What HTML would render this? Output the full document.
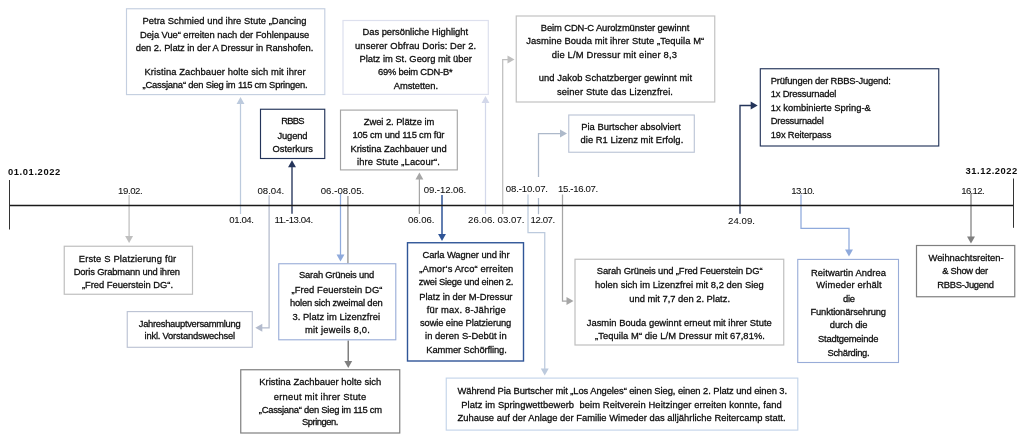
<!DOCTYPE html><html><head><meta charset="utf-8"><title>Timeline 2022</title><style>
html,body{margin:0;padding:0;background:#fff}
body{width:1024px;height:439px;position:relative;overflow:hidden;font-family:"Liberation Sans",sans-serif;}
svg{position:absolute;left:0;top:0}
.t{position:absolute;white-space:pre;font-size:9.4px;line-height:12px;height:12px;color:#0c0c0c;-webkit-text-stroke:0.28px #0c0c0c;}
#tx{position:absolute;left:0;top:0;width:1024px;height:439px;will-change:transform}
.b{font-weight:bold;-webkit-text-stroke:0}.d{font-size:9.6px;-webkit-text-stroke:0.05px #0c0c0c}
</style></head><body>
<svg width="1024" height="439" viewBox="0 0 1024 439">
<polyline fill="none" stroke="#bfbfbf" stroke-width="1.25" points="129.1,195 129.1,236.4"/>
<polygon fill="#bfbfbf" points="129.1,242.9 125.15,235.9 133.05,235.9"/>
<polyline fill="none" stroke="#bccadd" stroke-width="1.25" points="240.5,214 240.5,103.6"/>
<polygon fill="#bccadd" points="240.5,97.1 244.45,104.1 236.55,104.1"/>
<polyline fill="none" stroke="#b3bbcd" stroke-width="1.25" points="269.1,195.25 269.1,327.8 261.8,327.8"/>
<polygon fill="#b3bbcd" points="255.3,327.8 262.3,323.85 262.3,331.75"/>
<polyline fill="none" stroke="#24345a" stroke-width="1.35" points="292,213.75 292,166.7"/>
<polygon fill="#24345a" points="292,160.2 295.95,167.2 288.05,167.2"/>
<polyline fill="none" stroke="#8faadc" stroke-width="1.25" points="340.5,193.5 340.5,255"/>
<polygon fill="#8faadc" points="340.5,261.5 336.55,254.5 344.45,254.5"/>
<polyline fill="none" stroke="#a0a0a0" stroke-width="1.5" points="347.9,195.9 347.9,263.5"/>
<polyline fill="none" stroke="#7f7f7f" stroke-width="1.5" points="348.25,340.5 348.25,361.5"/>
<polygon fill="#7f7f7f" points="348.25,368 344.3,361 352.2,361"/>
<polyline fill="none" stroke="#a6a6a6" stroke-width="1.25" points="419.4,214 419.4,178.9"/>
<polygon fill="#a6a6a6" points="419.4,172.4 423.35,179.4 415.45,179.4"/>
<polyline fill="none" stroke="#2f5597" stroke-width="1.5" points="442,195 442,234.5"/>
<polygon fill="#2f5597" points="442,241 438.05,234 445.95,234"/>
<polyline fill="none" stroke="#d3d8ea" stroke-width="1.25" points="485.5,214 485.5,102.4"/>
<polygon fill="#d3d8ea" points="485.5,95.9 489.45,102.9 481.55,102.9"/>
<polyline fill="none" stroke="#bfbfbf" stroke-width="1.25" points="502.7,214 502.7,59.5 508,59.5"/>
<polygon fill="#bfbfbf" points="514.5,59.5 507.5,63.45 507.5,55.55"/>
<polyline fill="none" stroke="#bccadd" stroke-width="1.25" points="528,194.5 528,232.5 544.75,232.5 544.75,369.1"/>
<polygon fill="#bccadd" points="544.75,375.6 540.8,368.6 548.7,368.6"/>
<polyline fill="none" stroke="#adb9ca" stroke-width="1.25" points="538.5,214.25 538.5,198"/>
<polyline fill="none" stroke="#adb9ca" stroke-width="1.25" points="538.5,177 538.5,133.5 560.5,133.5"/>
<polygon fill="#adb9ca" points="567,133.5 560,137.45 560,129.55"/>
<polyline fill="none" stroke="#a6a6a6" stroke-width="1.25" points="562.5,194.5 562.5,301 567,301"/>
<polygon fill="#a6a6a6" points="573.5,301 566.5,304.95 566.5,297.05"/>
<polyline fill="none" stroke="#24345a" stroke-width="1.35" points="740,213.75 740,105.5 751.2,105.5"/>
<polygon fill="#24345a" points="757.7,105.5 750.7,109.45 750.7,101.55"/>
<polyline fill="none" stroke="#8faadc" stroke-width="1.25" points="801,194.5 801,228.25 849,228.25 849,250"/>
<polygon fill="#8faadc" points="849,256.5 845.05,249.5 852.95,249.5"/>
<polyline fill="none" stroke="#7f7f7f" stroke-width="1.25" points="971,194 971,237"/>
<polygon fill="#7f7f7f" points="971,243.5 967.05,236.5 974.95,236.5"/>
<line x1="9.5" y1="205.5" x2="1013" y2="205.5" stroke="#1a1a1a" stroke-width="1.5"/>
<line x1="9.5" y1="180" x2="9.5" y2="229.5" stroke="#333" stroke-width="1"/>
<line x1="1013.5" y1="178.5" x2="1013.5" y2="227.8" stroke="#333" stroke-width="1"/>
<rect x="126.5" y="8.75" width="198.3" height="85.85" fill="#fff" stroke="#c4cfe0" stroke-width="1.15"/>
<rect x="260.5" y="109.25" width="64.25" height="49.25" fill="#fff" stroke="#24345a" stroke-width="1.15"/>
<rect x="340.5" y="110.1" width="116.8" height="59.8" fill="#fff" stroke="#a6a6a6" stroke-width="1.15"/>
<rect x="343" y="20.5" width="145.3" height="73.9" fill="#fff" stroke="#dde0ee" stroke-width="1.2"/>
<rect x="516.25" y="16" width="198.5" height="86" fill="#fff" stroke="#c2c2c2" stroke-width="1.2"/>
<rect x="568.75" y="115" width="125.55" height="37.25" fill="#fff" stroke="#bcc5d6" stroke-width="1.15"/>
<rect x="760.3" y="68.75" width="178.45" height="77.25" fill="#fff" stroke="#24345a" stroke-width="1.15"/>
<rect x="64.25" y="246.25" width="128.25" height="48" fill="#fff" stroke="#bfbfbf" stroke-width="1.2"/>
<rect x="127.25" y="311.6" width="125.05" height="35.7" fill="#fff" stroke="#bcc3d4" stroke-width="1.15"/>
<rect x="278.75" y="263.75" width="117.05" height="76.05" fill="#fff" stroke="#98acd8" stroke-width="1.1"/>
<rect x="240.75" y="369.75" width="159" height="63.25" fill="#fff" stroke="#7f7f7f" stroke-width="1.2"/>
<rect x="407.5" y="242.75" width="116" height="118.25" fill="#fff" stroke="#2f5597" stroke-width="1.4"/>
<rect x="575" y="259.25" width="208.75" height="85.75" fill="#fff" stroke="#bfbfbf" stroke-width="1.2"/>
<rect x="446.25" y="378.1" width="351.55" height="52" fill="#fff" stroke="#c4d5ea" stroke-width="1.15"/>
<rect x="797.75" y="259.4" width="100.75" height="103.1" fill="#fff" stroke="#98acd8" stroke-width="1.1"/>
<rect x="916.5" y="245.5" width="98.25" height="51.25" fill="#fff" stroke="#7f7f7f" stroke-width="1.2"/>
</svg>
<div id="tx">
<div class="t" id="t0" style="left:142.5px;top:15px;letter-spacing:0.039px">Petra Schmied und ihre Stute „Dancing</div>
<div class="t" id="t1" style="left:140px;top:29px;letter-spacing:-0.062px">Deja Vue“ erreiten nach der Fohlenpause</div>
<div class="t" id="t2" style="left:135.75px;top:42px;letter-spacing:-0.042px">den 2. Platz in der A Dressur in Ranshofen.</div>
<div class="t" id="t3" style="left:144.5px;top:66px;letter-spacing:0.101px">Kristina Zachbauer holte sich mit ihrer</div>
<div class="t" id="t4" style="left:142.5px;top:79px;letter-spacing:-0.203px">„Cassjana“ den Sieg im 115 cm Springen.</div>
<div class="t" id="t5" style="left:281.25px;top:115px;letter-spacing:-0.723px">RBBS</div>
<div class="t" id="t6" style="left:277.5px;top:130px;letter-spacing:-0.139px">Jugend</div>
<div class="t" id="t7" style="left:272.5px;top:143px;letter-spacing:-0.017px">Osterkurs</div>
<div class="t" id="t8" style="left:363.75px;top:116px;letter-spacing:-0.053px">Zwei 2. Plätze im</div>
<div class="t" id="t9" style="left:352.5px;top:129px;letter-spacing:-0.168px">105 cm und 115 cm für</div>
<div class="t" id="t10" style="left:350.5px;top:143px;letter-spacing:-0.032px">Kristina Zachbauer und</div>
<div class="t" id="t11" style="left:357px;top:156px;letter-spacing:0.141px">ihre Stute „Lacour“.</div>
<div class="t" id="t12" style="left:362.5px;top:26px;letter-spacing:-0.033px">Das persönliche Highlight</div>
<div class="t" id="t13" style="left:355px;top:40px;letter-spacing:0.108px">unserer Obfrau Doris: Der 2.</div>
<div class="t" id="t14" style="left:359.5px;top:53px;letter-spacing:-0.011px">Platz im St. Georg mit über</div>
<div class="t" id="t15" style="left:378px;top:66px;letter-spacing:-0.217px">69% beim CDN-B*</div>
<div class="t" id="t16" style="left:393.75px;top:80px;letter-spacing:-0.059px">Amstetten.</div>
<div class="t" id="t17" style="left:540.75px;top:22px;letter-spacing:-0.099px">Beim CDN-C Aurolzmünster gewinnt</div>
<div class="t" id="t18" style="left:526.25px;top:35px;letter-spacing:0.085px">Jasmine Bouda mit ihrer Stute „Tequila M“</div>
<div class="t" id="t19" style="left:551.75px;top:49px;letter-spacing:0.172px">die L/M Dressur mit einer 8,3</div>
<div class="t" id="t20" style="left:538.75px;top:72px;letter-spacing:0.048px">und Jakob Schatzberger gewinnt mit</div>
<div class="t" id="t21" style="left:557px;top:86px;letter-spacing:0.106px">seiner Stute das Lizenzfrei.</div>
<div class="t" id="t22" style="left:581.25px;top:121px;letter-spacing:0.010px">Pia Burtscher absolviert</div>
<div class="t" id="t23" style="left:580.5px;top:134px;letter-spacing:0.047px">die R1 Lizenz mit Erfolg.</div>
<div class="t" id="t24" style="left:770.75px;top:75px;letter-spacing:-0.159px">Prüfungen der RBBS-Jugend:</div>
<div class="t" id="t25" style="left:770.75px;top:88px;letter-spacing:-0.191px">1x Dressurnadel</div>
<div class="t" id="t26" style="left:770.75px;top:102px;letter-spacing:-0.002px">1x kombinierte Spring-&amp;</div>
<div class="t" id="t27" style="left:770.75px;top:115px;letter-spacing:-0.240px">Dressurnadel</div>
<div class="t" id="t28" style="left:770.75px;top:129px;letter-spacing:-0.150px">19x Reiterpass</div>
<div class="t b" id="t29" style="left:8px;top:166px;letter-spacing:0.587px">01.01.2022</div>
<div class="t b" id="t30" style="left:965.5px;top:165px;letter-spacing:0.535px">31.12.2022</div>
<div class="t d" id="t31" style="left:118px;top:185px;letter-spacing:-0.398px">19.02.</div>
<div class="t d" id="t32" style="left:257.5px;top:185px;letter-spacing:0.011px">08.04.</div>
<div class="t d" id="t33" style="left:320.75px;top:185px;letter-spacing:0.030px">06.-08.05.</div>
<div class="t d" id="t34" style="left:423.75px;top:184px;letter-spacing:-0.076px">09.-12.06.</div>
<div class="t d" id="t35" style="left:505.75px;top:183px;letter-spacing:-0.102px">08.-10.07.</div>
<div class="t d" id="t36" style="left:558px;top:183px;letter-spacing:-0.339px">15.-16.07.</div>
<div class="t d" id="t37" style="left:791.25px;top:185px;letter-spacing:-0.670px">13.10.</div>
<div class="t d" id="t38" style="left:961.25px;top:185px;letter-spacing:-0.670px">16.12.</div>
<div class="t d" id="t39" style="left:229.25px;top:214px;letter-spacing:-0.398px">01.04.</div>
<div class="t d" id="t40" style="left:274.5px;top:214px;letter-spacing:-0.421px">11.-13.04.</div>
<div class="t d" id="t41" style="left:408px;top:214px;letter-spacing:-0.034px">06.06.</div>
<div class="t d" id="t42" style="left:468px;top:214px;letter-spacing:0.057px">26.06.</div>
<div class="t d" id="t43" style="left:497.5px;top:214px;letter-spacing:0.057px">03.07.</div>
<div class="t d" id="t44" style="left:530.5px;top:214px;letter-spacing:-0.398px">12.07.</div>
<div class="t d" id="t45" style="left:728px;top:215px;letter-spacing:0.057px">24.09.</div>
<div class="t" id="t46" style="left:78.75px;top:253px;letter-spacing:0.165px">Erste S Platzierung für</div>
<div class="t" id="t47" style="left:73.75px;top:266px;letter-spacing:-0.180px">Doris Grabmann und ihren</div>
<div class="t" id="t48" style="left:82px;top:279px;letter-spacing:-0.034px">„Fred Feuerstein DG“.</div>
<div class="t" id="t49" style="left:138.75px;top:318px;letter-spacing:-0.285px">Jahreshauptversammlung</div>
<div class="t" id="t50" style="left:144.5px;top:330px;letter-spacing:-0.202px">inkl. Vorstandswechsel</div>
<div class="t" id="t51" style="left:299px;top:269px;letter-spacing:-0.224px">Sarah Grüneis und</div>
<div class="t" id="t52" style="left:291.5px;top:284px;letter-spacing:0.098px">„Fred Feuerstein DG“</div>
<div class="t" id="t53" style="left:290px;top:297px;letter-spacing:-0.206px">holen sich zweimal den</div>
<div class="t" id="t54" style="left:292.5px;top:311px;letter-spacing:0.047px">3. Platz im Lizenzfrei</div>
<div class="t" id="t55" style="left:305px;top:324px;letter-spacing:0.227px">mit jeweils 8,0.</div>
<div class="t" id="t56" style="left:259.25px;top:376px;letter-spacing:0.038px">Kristina Zachbauer holte sich</div>
<div class="t" id="t57" style="left:273.75px;top:391px;letter-spacing:0.230px">erneut mit ihrer Stute</div>
<div class="t" id="t58" style="left:258.75px;top:404px;letter-spacing:-0.240px">„Cassjana“ den Sieg im 115 cm</div>
<div class="t" id="t59" style="left:302px;top:416px;letter-spacing:-0.487px">Springen.</div>
<div class="t" id="t60" style="left:422.5px;top:249px;letter-spacing:-0.091px">Carla Wagner und ihr</div>
<div class="t" id="t61" style="left:419.25px;top:263px;letter-spacing:0.132px">„Amor‘s Arco“ erreiten</div>
<div class="t" id="t62" style="left:418.75px;top:276px;letter-spacing:-0.225px">zwei Siege und einen 2.</div>
<div class="t" id="t63" style="left:419.25px;top:291px;letter-spacing:-0.001px">Platz in der M-Dressur</div>
<div class="t" id="t64" style="left:426.75px;top:304px;letter-spacing:0.196px">für max. 8-Jährige</div>
<div class="t" id="t65" style="left:420px;top:317px;letter-spacing:-0.119px">sowie eine Platzierung</div>
<div class="t" id="t66" style="left:425px;top:330px;letter-spacing:0.052px">in deren S-Debüt in</div>
<div class="t" id="t67" style="left:426.25px;top:344px;letter-spacing:-0.104px">Kammer Schörfling.</div>
<div class="t" id="t68" style="left:596.75px;top:265px;letter-spacing:-0.124px">Sarah Grüneis und „Fred Feuerstein DG“</div>
<div class="t" id="t69" style="left:595px;top:279px;letter-spacing:0.024px">holen sich im Lizenzfrei mit 8,2 den Sieg</div>
<div class="t" id="t70" style="left:629.25px;top:293px;letter-spacing:-0.015px">und mit 7,7 den 2. Platz.</div>
<div class="t" id="t71" style="left:586.75px;top:317px;letter-spacing:0.012px">Jasmin Bouda gewinnt erneut mit ihrer Stute</div>
<div class="t" id="t72" style="left:595px;top:330px;letter-spacing:0.071px">„Tequila M“ die L/M Dressur mit 67,81%.</div>
<div class="t" id="t73" style="left:457.5px;top:385px;letter-spacing:-0.071px">Während Pia Burtscher mit „Los Angeles“ einen Sieg, einen 2. Platz und einen 3.</div>
<div class="t" id="t74" style="left:461.25px;top:399px;letter-spacing:0.077px">Platz im Springwettbewerb  beim Reitverein Heitzinger erreiten konnte, fand</div>
<div class="t" id="t75" style="left:457.5px;top:412px;letter-spacing:0.017px">Zuhause auf der Anlage der Familie Wimeder das alljährliche Reitercamp statt.</div>
<div class="t" id="t76" style="left:811px;top:267px;letter-spacing:0.061px">Reitwartin Andrea</div>
<div class="t" id="t77" style="left:816.25px;top:279px;letter-spacing:0.144px">Wimeder erhält</div>
<div class="t" id="t78" style="left:843px;top:293px;letter-spacing:-0.306px">die</div>
<div class="t" id="t79" style="left:810.5px;top:306px;letter-spacing:-0.163px">Funktionärsehrung</div>
<div class="t" id="t80" style="left:829.8px;top:319px;letter-spacing:-0.103px">durch die</div>
<div class="t" id="t81" style="left:818px;top:333px;letter-spacing:-0.226px">Stadtgemeinde</div>
<div class="t" id="t82" style="left:827.5px;top:347px;letter-spacing:-0.298px">Schärding.</div>
<div class="t" id="t83" style="left:928.5px;top:252px;letter-spacing:-0.024px">Weihnachtsreiten-</div>
<div class="t" id="t84" style="left:942.25px;top:265px;letter-spacing:-0.286px">&amp; Show der</div>
<div class="t" id="t85" style="left:937.25px;top:279px;letter-spacing:-0.278px">RBBS-Jugend</div>
</div>
</body></html>
